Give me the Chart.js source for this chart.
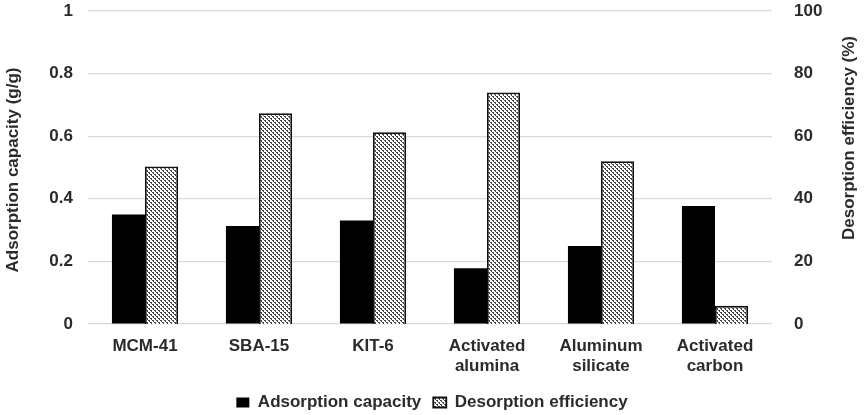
<!DOCTYPE html>
<html>
<head>
<meta charset="utf-8">
<script src="https://cdn.jsdelivr.net/npm/chart.js@4.4.0/dist/chart.umd.min.js"></script>
<style>
    html, body { margin: 0; padding: 0; background: #fff; }
    #wrap { width: 864px; height: 415px; }
</style>
</head>
<body>
<div id="wrap"><canvas id="adsChart" width="864" height="415"></canvas></div>
<script>
// Data
const categories = [
    'MCM-41',
    'SBA-15',
    'KIT-6',
    ['Activated', 'alumina'],
    ['Aluminum', 'silicate'],
    ['Activated', 'carbon']
];
const adsorptionCapacity = [0.35, 0.313, 0.331, 0.178, 0.249, 0.377];   // g/g
const desorptionEfficiency = [50.3, 67.3, 61.3, 74.0, 52.0, 5.8];       // %
const leftTicks = [0, 0.2, 0.4, 0.6, 0.8, 1];
const rightTicks = [0, 20, 40, 60, 80, 100];
const leftTitle = 'Adsorption capacity (g/g)';
const rightTitle = 'Desorption efficiency (%)';

const fontFamily = '"Liberation Sans", Arial, sans-serif';
const textColor = '#2b2b2b';
const fontSize = 17;

// Dotted pattern for the desorption bars
function makePattern() {
    const tile = document.createElement('canvas');
    tile.width = 4;
    tile.height = 4;
    const c = tile.getContext('2d');
    c.fillStyle = '#ffffff';
    c.fillRect(0, 0, 4, 4);
    c.fillStyle = '#444444';
    c.fillRect(0, 0, 2, 1);
    c.fillRect(1, 1, 1, 1);
    c.fillRect(2, 2, 2, 1);
    c.fillRect(3, 3, 1, 1);
    return document.getElementById('adsChart').getContext('2d').createPattern(tile, 'repeat');
}
const dots = makePattern();

// Axis titles, both read bottom-to-top
const axisTitles = {
    id: 'axisTitles',
    afterDraw(chart) {
        const ctx = chart.ctx;
        ctx.save();
        ctx.font = 'bold ' + fontSize + 'px ' + fontFamily;
        ctx.fillStyle = textColor;
        ctx.textAlign = 'center';
        ctx.textBaseline = 'middle';
        ctx.translate(13, 170);
        ctx.rotate(-Math.PI / 2);
        ctx.fillText(leftTitle, 0, 0);
        ctx.restore();

        ctx.save();
        ctx.font = 'bold ' + fontSize + 'px ' + fontFamily;
        ctx.fillStyle = textColor;
        ctx.textAlign = 'center';
        ctx.textBaseline = 'middle';
        ctx.translate(849, 138);
        ctx.rotate(-Math.PI / 2);
        ctx.fillText(rightTitle, 0, 0);
        ctx.restore();
    }
};

Chart.defaults.font.family = fontFamily;
Chart.defaults.font.weight = 'bold';
Chart.defaults.color = textColor;

new Chart(document.getElementById('adsChart'), {
    type: 'bar',
    data: {
        labels: categories,
        datasets: [
            {
                label: 'Adsorption capacity',
                data: adsorptionCapacity,
                yAxisID: 'y',
                backgroundColor: '#000000',
                borderColor: '#000000',
                borderWidth: 0,
                categoryPercentage: 0.58,
                barPercentage: 1.0
            },
            {
                label: 'Desorption efficiency',
                data: desorptionEfficiency,
                yAxisID: 'y1',
                backgroundColor: dots,
                borderColor: '#111111',
                borderWidth: 1.8,
                categoryPercentage: 0.58,
                barPercentage: 1.0
            }
        ]
    },
    plugins: [axisTitles],
    options: {
        responsive: false,
        animation: false,
        layout: { padding: { top: 11, left: 0, right: 0, bottom: -6 } },
        plugins: {
            legend: {
                position: 'bottom',
                labels: {
                    boxWidth: 13,
                    boxHeight: 10,
                    padding: 12,
                    font: { size: fontSize, weight: 'bold' },
                    color: textColor
                }
            },
            tooltip: { enabled: false }
        },
        scales: {
            x: {
                grid: { display: false },
                border: { display: false },
                ticks: {
                    font: { size: fontSize, weight: 'bold' },
                    color: textColor,
                    padding: 4,
                    maxRotation: 0,
                    autoSkip: false
                },
                afterFit: function(axis) { axis.height = 58; }
            },
            y: {
                position: 'left',
                min: 0,
                max: 1,
                afterBuildTicks: function(axis) {
                    axis.ticks = leftTicks.map(v => ({ value: v }));
                },
                grid: { color: '#d9d9d9', lineWidth: 1.2, drawTicks: false },
                border: { display: false },
                ticks: {
                    font: { size: fontSize, weight: 'bold' },
                    color: textColor,
                    padding: 15,
                    callback: v => String(v)
                },
                afterFit: function(axis) {
                    axis.width = 88;
                    axis.paddingTop = 0;
                }
            },
            y1: {
                position: 'right',
                min: 0,
                max: 100,
                afterBuildTicks: function(axis) {
                    axis.ticks = rightTicks.map(v => ({ value: v }));
                },
                grid: { display: false, drawTicks: false },
                border: { display: false },
                ticks: {
                    font: { size: fontSize, weight: 'bold' },
                    color: textColor,
                    padding: 22,
                    callback: v => String(v)
                },
                afterFit: function(axis) {
                    axis.width = 92;
                    axis.paddingTop = 0;
                }
            }
        }
    }
});
</script>
</body>
</html>
